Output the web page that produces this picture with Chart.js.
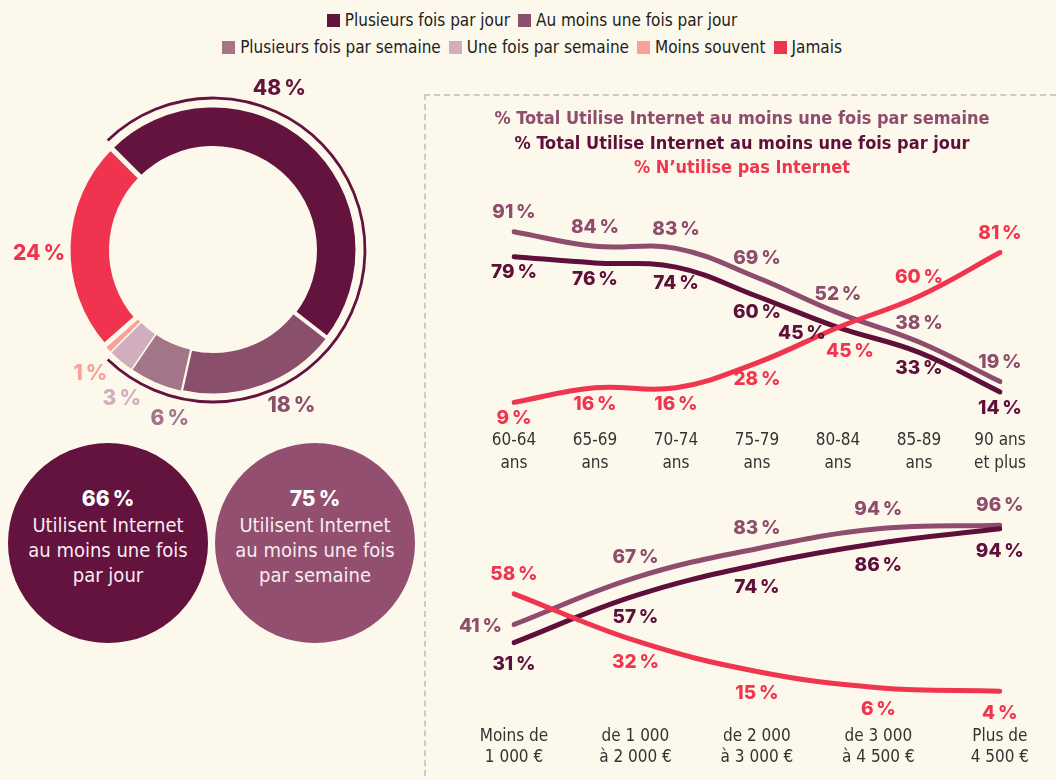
<!DOCTYPE html>
<html lang="fr">
<head>
<meta charset="utf-8">
<title>Fréquence d'utilisation d'Internet</title>
<script src="https://cdn.jsdelivr.net/npm/chart.js@4.4.1/dist/chart.umd.min.js"></script>
<style>
  html, body { margin: 0; padding: 0; }
  body {
    width: 1056px; height: 780px; position: relative; overflow: hidden;
    background: #FDF8EC;
    font-family: 'Liberation Sans Narrow', 'DejaVu Sans Condensed', sans-serif;
  }
  canvas { position: absolute; }
  #legend { position: absolute; left: 0; top: 7px; width: 1064px; text-align: center; font-size: 17px; color: #222; }
  #legend .row { height: 27px; line-height: 27px; white-space: nowrap; }
  #legend .item { display: inline-block; margin: 0 4px; }
  #legend .sw { display: inline-block; width: 13px; height: 13px; margin-right: 5px; vertical-align: -1px; }
  .bubble {
    position: absolute; width: 200px; height: 200px; border-radius: 50%;
    color: #F7EDF1; text-align: center; font-size: 20px; line-height: 25px;
    box-sizing: border-box; padding-top: 43px;
  }
  .bubble b { display: block; font-family: Inter, sans-serif; font-weight: 800; font-size: 21px; color: #fff; margin-bottom: 2px; }
  #panel {
    position: absolute; left: 424px; top: 94px; width: 640px; height: 700px;
    border-top: 2px dashed #CACACA; border-left: 2px dashed #CACACA;
  }
  #titles {
    position: absolute; left: 424px; top: 106px; width: 636px; text-align: center;
    font-weight: 700; font-size: 18px; line-height: 24.5px;
  }
</style>
</head>
<body>
<div id="legend"></div>
<canvas id="ring" width="426" height="380" style="left:0;top:60px"></canvas>
<div id="bubbles"></div>
<div id="panel"></div>
<div id="titles"></div>
<canvas id="ages" width="616" height="300" style="left:440px;top:190px"></canvas>
<canvas id="incomes" width="616" height="310" style="left:440px;top:490px"></canvas>

<script>
// frequency breakdown (ring)
const frequencies = ['Plusieurs fois par jour', 'Au moins une fois par jour', 'Plusieurs fois par semaine',
                     'Une fois par semaine', 'Moins souvent', 'Jamais'];
const frequencyShares = [48, 18, 6, 3, 1, 24];
const frequencyColors = ['#63133E', '#8A4F6A', '#A37589', '#D1AEBD', '#F9A19A', '#F0344F'];

// totals shown in the two discs
const totals = [66, 75];
const totalTexts = [['Utilisent Internet', 'au moins une fois', 'par jour'],
                    ['Utilisent Internet', 'au moins une fois', 'par semaine']];
const totalColors = ['#63133E', '#934F6F'];

// series titles
const seriesNames = ['% Total Utilise Internet au moins une fois par semaine',
                     '% Total Utilise Internet au moins une fois par jour',
                     '% N\u2019utilise pas Internet'];
const seriesColors = ['#8E4D6D', '#5E0F3A', '#F0354F'];

// by age
const ageGroups = [['60-64', 'ans'], ['65-69', 'ans'], ['70-74', 'ans'], ['75-79', 'ans'],
                   ['80-84', 'ans'], ['85-89', 'ans'], ['90 ans', 'et plus']];
const ageWeekly = [91, 84, 83, 69, 52, 38, 19];
const ageDaily  = [79, 76, 74, 60, 45, 33, 14];
const ageNever  = [9, 16, 16, 28, 45, 60, 81];

// by monthly income
const incomeGroups = [['Moins de', '1\u00A0000\u00A0€'], ['de 1\u00A0000', 'à 2\u00A0000\u00A0€'],
                      ['de 2\u00A0000', 'à 3\u00A0000\u00A0€'], ['de 3\u00A0000', 'à 4\u00A0500\u00A0€'],
                      ['Plus de', '4\u00A0500\u00A0€']];
const incomeWeekly = [41, 67, 83, 94, 96];
const incomeDaily  = [31, 57, 74, 86, 94];
const incomeNever  = [58, 32, 15, 6, 4];

const pct = v => v + '\u202F%';
const narrow = "'Liberation Sans Narrow', 'DejaVu Sans Condensed', sans-serif";

// legend, two rows
const legend = document.getElementById('legend');
[[0, 2], [2, 6]].forEach(([a, b]) => {
  const row = document.createElement('div');
  row.className = 'row';
  for (let i = a; i < b; i++) {
    row.innerHTML += `<span class="item"><span class="sw" style="background:${frequencyColors[i]}"></span>${frequencies[i]}</span>`;
  }
  legend.appendChild(row);
});

// discs
const bubbles = document.getElementById('bubbles');
totals.forEach((v, i) => {
  const d = document.createElement('div');
  d.className = 'bubble';
  d.style.left = (8 + i * 207) + 'px';
  d.style.top = '443px';
  d.style.background = totalColors[i];
  d.innerHTML = `<b>${pct(v)}</b>` + totalTexts[i].join('<br>');
  bubbles.appendChild(d);
});

// titles
document.getElementById('titles').innerHTML =
  seriesNames.map((t, i) => `<div style="color:${seriesColors[i]}">${t}</div>`).join('');

// labels around the ring + the thin bracket outside it
const ringDecor = {
  id: 'ringDecor',
  afterDatasetsDraw(chart, args, opts) {
    const arcs = chart.getDatasetMeta(0).data;
    const ctx = chart.ctx;
    const cx = arcs[0].x, cy = arcs[0].y, r = arcs[0].outerRadius;
    ctx.save();
    ctx.strokeStyle = frequencyColors[0];
    ctx.lineWidth = 2.8;
    opts.brackets.forEach(([from, to]) => {
      ctx.beginPath();
      ctx.arc(cx, cy, r + 7, arcs[from].startAngle + 0.02, arcs[to].endAngle - 0.02);
      ctx.stroke();
    });
    ctx.font = '800 21px Inter, sans-serif';
    ctx.textAlign = 'center';
    ctx.textBaseline = 'middle';
    arcs.forEach((arc, i) => {
      const a = (arc.startAngle + arc.endAngle) / 2 + opts.angleShift[i] * Math.PI / 180;
      const R = r + 29;
      ctx.fillStyle = frequencyColors[i];
      ctx.fillText(pct(frequencyShares[i]), cx + R * Math.cos(a), cy + R * Math.sin(a));
    });
    ctx.restore();
  }
};

new Chart(document.getElementById('ring'), {
  type: 'doughnut',
  data: {
    labels: frequencies,
    datasets: [{
      data: frequencyShares,
      backgroundColor: frequencyColors,
      borderColor: '#FDF8EC',
      borderWidth: [5, 3, 1.5, 1.5, 1.5, 5],
      hoverOffset: 0
    }]
  },
  options: {
    responsive: false,
    animation: false,
    rotation: -45,
    radius: 145,
    cutout: '70%',
    plugins: {
      legend: { display: false },
      tooltip: { enabled: false },
      ringDecor: { brackets: [[0, 3]], angleShift: [-19, -7, -9, -8, -2, -3] }
    }
  },
  plugins: [ringDecor]
});

// percentage labels next to each point of the curves
const pointLabels = {
  id: 'pointLabels',
  afterDatasetsDraw(chart, args, opts) {
    const ctx = chart.ctx;
    ctx.save();
    ctx.font = '800 19px Inter, sans-serif';
    ctx.textAlign = 'center';
    ctx.textBaseline = 'middle';
    chart.data.datasets.forEach((ds, i) => {
      chart.getDatasetMeta(i).data.forEach((pt, j) => {
        const text = pct(ds.data[j]);
        let x = pt.x, y = pt.y;
        const place = ds.labelPlace[j];
        if (place === 'top') y -= opts.above;
        else if (place === 'bottom') y += opts.below;
        else if (place === 'left') { x -= ctx.measureText(text).width / 2 + 12; y += 2; }
        else if (place === 'lowleft') { x -= 36; y += 6; }
        else if (place === 'lowright') { x += 12; y += 24; }
        ctx.fillStyle = ds.borderColor;
        ctx.fillText(text, x, y);
      });
    });
    ctx.restore();
  }
};

function curves(id, groups, weekly, daily, never, places, pad, tickPad, lineH, gaps) {
  const series = [weekly, daily, never];
  return new Chart(document.getElementById(id), {
    type: 'line',
    data: {
      labels: groups,
      datasets: series.map((s, i) => ({
        data: s,
        borderColor: seriesColors[i],
        labelPlace: places[i],
        order: 3 - i
      }))
    },
    options: {
      responsive: false,
      animation: false,
      layout: { padding: pad },
      elements: {
        point: { radius: 0 },
        line: { tension: 0.4, borderWidth: 5, borderCapStyle: 'round', borderJoinStyle: 'round' }
      },
      plugins: { legend: { display: false }, tooltip: { enabled: false }, pointLabels: gaps },
      scales: {
        x: {
          offset: false,
          grid: { display: false, drawTicks: false },
          border: { display: false },
          ticks: {
            color: '#333', padding: tickPad, maxRotation: 0, autoSkip: false,
            font: { family: narrow, size: 17, lineHeight: lineH }
          }
        },
        y: { display: false, min: 0, max: 100 }
      }
    },
    plugins: [pointLabels]
  });
}

curves('ages', ageGroups, ageWeekly, ageDaily, ageNever, [
  ['top', 'top', 'top', 'top', 'top', 'top', 'top'],
  ['bottom', 'bottom', 'bottom', 'bottom', 'lowleft', 'bottom', 'bottom'],
  ['bottom', 'bottom', 'bottom', 'bottom', 'lowright', 'top', 'top']
], { left: 74, right: 56, top: 23, bottom: 7 }, 8, 1.35, { above: 19, below: 16 });

curves('incomes', incomeGroups, incomeWeekly, incomeDaily, incomeNever, [
  ['left', 'top', 'top', 'top', 'top'],
  ['bottom', 'bottom', 'bottom', 'bottom', 'bottom'],
  ['top', 'bottom', 'bottom', 'bottom', 'bottom']
], { left: 74, right: 56, top: 28, bottom: 5 }, 27, 1.25, { above: 20, below: 22 });
</script>
</body>
</html>
